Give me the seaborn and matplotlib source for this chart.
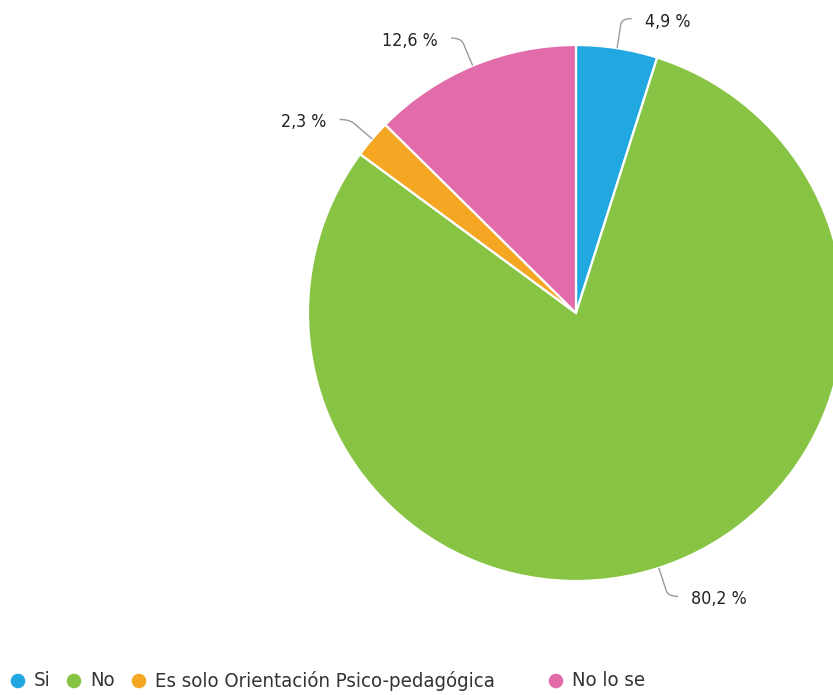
import numpy as np
import matplotlib
matplotlib.use("Agg")
import matplotlib.pyplot as plt
from matplotlib.path import Path
from matplotlib.patches import PathPatch
import seaborn as sns

# Survey answers and their shares (%)
categories = ["Si", "No", "Es solo Orientación Psico-pedagógica", "No lo se"]
shares = [4.9, 80.2, 2.3, 12.6]
share_labels = ["4,9 %", "80,2 %", "2,3 %", "12,6 %"]
colors = ["#22a8e1", "#88c444", "#f5a623", "#e26ca9"]

sns.set_theme(style="white")
plt.rcParams["font.family"] = ["DejaVu Sans"]
plt.rcParams["font.stretch"] = "condensed"

W, H = 833, 695
fig = plt.figure(figsize=(W / 100, H / 100), dpi=100)
ax = fig.add_axes([0, 0, 1, 1])

cx, cy, R = 576, H - 313, 268
wedges, _ = ax.pie(
    shares,
    colors=colors,
    startangle=90,
    counterclock=False,
    center=(cx, cy),
    radius=R,
    frame=True,
    wedgeprops=dict(edgecolor="white", linewidth=1.6),
)
ax.set_xlim(0, W)
ax.set_ylim(0, H)
ax.set_aspect("equal")
ax.axis("off")

# Leader lines: radial stub then a short rounded horizontal tail
ext, tail, gap = 30, 10, 13
for w, lab in zip(wedges, share_labels):
    th = np.deg2rad((w.theta1 + w.theta2) / 2)
    d = np.array([np.cos(th), np.sin(th)])
    p0 = np.array([cx, cy]) + R * d
    p1 = np.array([cx, cy]) + (R + ext) * d
    side = 1 if d[0] >= 0 else -1
    pa = np.array([cx, cy]) + (R + ext - 6) * d
    p2 = p1 + np.array([side * tail, 0])
    path = Path([p0, pa, p1, p2],
                [Path.MOVETO, Path.LINETO, Path.CURVE3, Path.CURVE3])
    ax.add_patch(PathPatch(path, fill=False, edgecolor="#9a9a9a", linewidth=1.0))
    ax.text(p2[0] + side * gap, p2[1] - 3, lab,
            ha="left" if side > 0 else "right", va="center",
            fontsize=12.8, color="#222222")

# Legend row along the bottom
legend_x = [18, 74, 139, 556]
ly = H - 681
for x, c, name in zip(legend_x, colors, categories):
    ax.scatter([x], [ly], s=110, color=c, edgecolors="none", clip_on=False)
    ax.text(x + 16, ly, name, ha="left", va="center",
            fontsize=14.6, color="#333333")

fig.savefig("out.png", dpi=100)
